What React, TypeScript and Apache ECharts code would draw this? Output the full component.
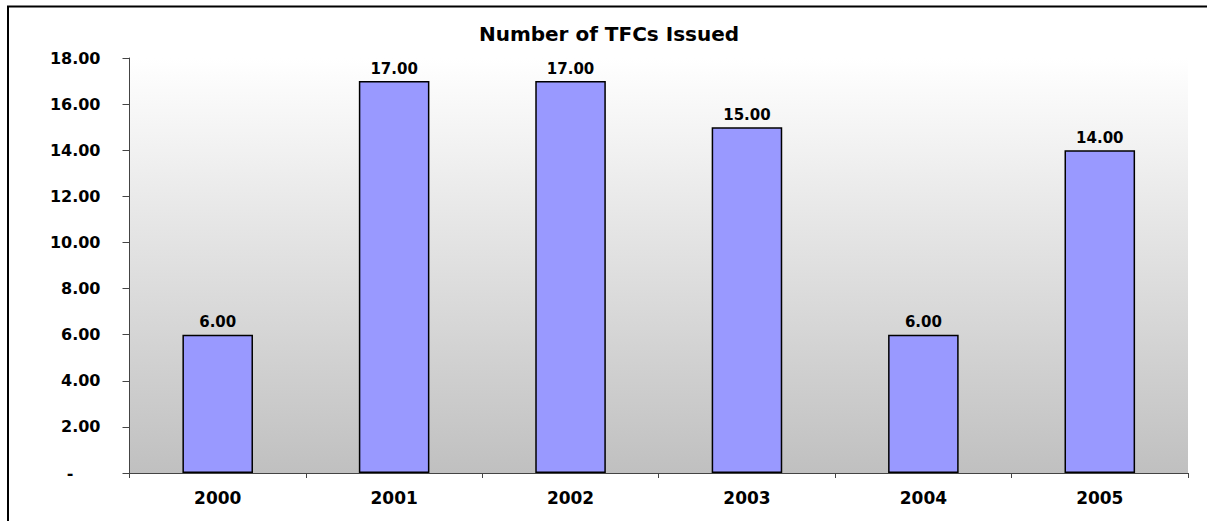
import React, { useEffect, useRef } from "react";
import * as echarts from "echarts";

const categories = ["2000", "2001", "2002", "2003", "2004", "2005"];
const tfcsIssued = [6, 17, 17, 15, 6, 14];
const titleText = "Number of TFCs Issued";
const yMin = 0;
const yMax = 18;
const yStep = 2;

const FONT = "'DejaVu Sans', 'Liberation Sans', Arial, sans-serif";

export default function App() {
  const ref = useRef<HTMLDivElement>(null);
  useEffect(() => {
    if (!ref.current) return;
    const chart = echarts.init(ref.current, undefined, { renderer: "svg" });
    chart.setOption({
      animation: false,
      backgroundColor: "#ffffff",
      graphic: [
        {
          type: "rect",
          shape: { x: 8, y: 6.5, width: 1300, height: 600 },
          style: { fill: "none", stroke: "#000", lineWidth: 2 },
          silent: true,
        },
        {
          type: "text",
          x: 609,
          y: 34,
          style: {
            text: titleText,
            textAlign: "center",
            textVerticalAlign: "middle",
            fontFamily: FONT,
            fontWeight: "bold",
            fontSize: 20,
            fill: "#000",
          },
        },
      ],
      grid: {
        left: 129.5,
        right: 19,
        top: 58,
        bottom: 48,
        show: true,
        borderWidth: 0,
        backgroundColor: new echarts.graphic.LinearGradient(0, 0, 0, 1, [
          { offset: 0, color: "#ffffff" },
          { offset: 1, color: "#c0c0c0" },
        ]),
      },
      xAxis: {
        type: "category",
        data: categories,
        boundaryGap: true,
        axisLine: { lineStyle: { color: "#444", width: 1 } },
        axisTick: { show: true, length: 5, alignWithLabel: false, lineStyle: { color: "#444" } },
        axisLabel: {
          margin: 16,
          fontFamily: FONT,
          fontWeight: "bold",
          fontSize: 17,
          color: "#000",
        },
        splitLine: { show: false },
      },
      yAxis: {
        type: "value",
        min: yMin,
        max: yMax,
        interval: yStep,
        axisLine: { show: true, lineStyle: { color: "#444", width: 1 } },
        axisTick: { show: true, length: 7, lineStyle: { color: "#444" } },
        splitLine: { show: false },
        axisLabel: {
          margin: 29,
          fontFamily: FONT,
          fontWeight: "bold",
          fontSize: 16,
          color: "#000",
          formatter: (v: number) => (v === 0 ? "{z|-}" : v.toFixed(2)),
          rich: {
            z: {
              fontFamily: FONT,
              fontWeight: "bold",
              fontSize: 16,
              color: "#000",
              padding: [0, 27, 0, 0],
            },
          },
        },
      },
      series: [
        {
          type: "bar",
          data: tfcsIssued,
          barWidth: "40%",
          itemStyle: { color: "#9999ff", borderColor: "#000", borderWidth: 1.5 },
          label: {
            show: true,
            position: "top",
            distance: 5,
            fontFamily: FONT,
            fontWeight: "bold",
            fontSize: 15,
            color: "#000",
            formatter: (p: any) => Number(p.value).toFixed(2),
          },
        },
      ],
    });
    return () => chart.dispose();
  }, []);
  return (
    <div
      ref={ref}
      style={{ position: "fixed", left: 0, top: 0, width: 1207, height: 521 }}
    />
  );
}
